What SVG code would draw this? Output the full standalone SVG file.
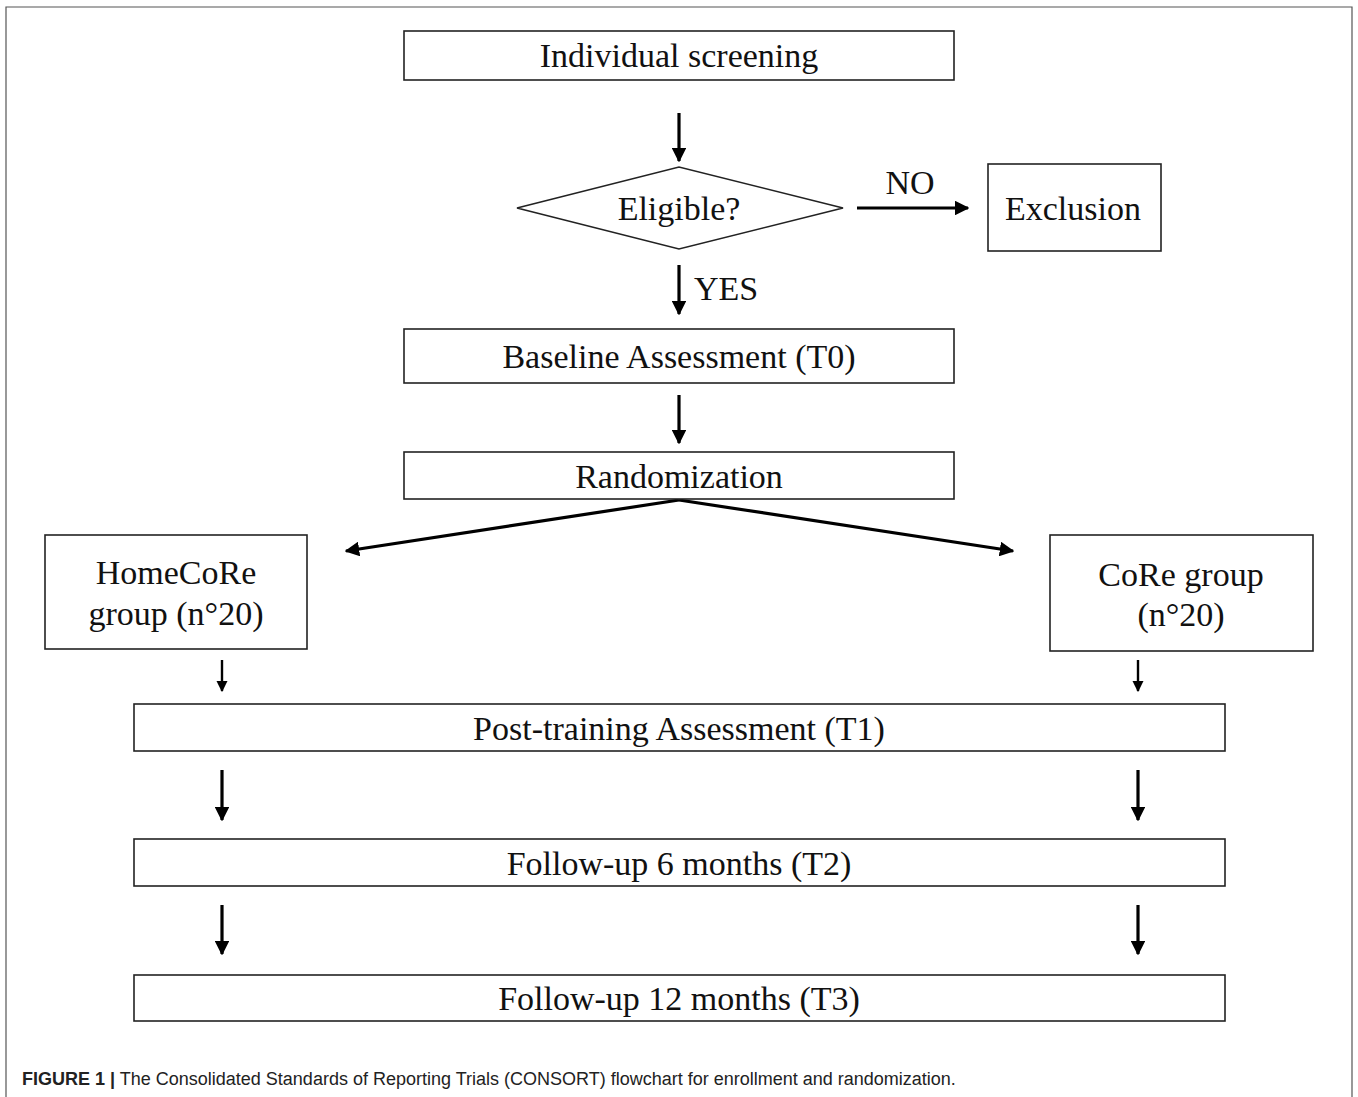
<svg xmlns="http://www.w3.org/2000/svg" width="1358" height="1097" viewBox="0 0 1358 1097">
<defs>
<marker id="ah" viewBox="0 0 10 10" refX="9" refY="5" markerWidth="4.6" markerHeight="4.6" markerUnits="strokeWidth" orient="auto">
<path d="M0,0 L10,5 L0,10 z" fill="#000"/>
</marker>
<style>
.box{fill:#fff;stroke:#222;stroke-width:1.6}
.t{font-family:"Liberation Serif","Times New Roman",serif;font-size:34px;fill:#111;text-anchor:middle;dominant-baseline:central}
.c{stroke:#000;stroke-width:3.2;fill:none;marker-end:url(#ah)}
.cs{stroke:#000;stroke-width:2.4;fill:none;marker-end:url(#ah)}
.cap{font-family:"Liberation Sans",Arial,sans-serif;font-size:18px;fill:#222}
</style>
</defs>
<rect width="1358" height="1097" fill="#fff"/>
<path d="M6,1097 V7 H1352 V1097" fill="none" stroke="#555" stroke-width="1.2"/>

<g id="connectors">
<line class="c" x1="679" y1="113" x2="679" y2="161"/>
<line class="c" x1="857" y1="208" x2="968" y2="208"/>
<line class="c" x1="679" y1="265" x2="679" y2="314"/>
<line class="c" x1="679" y1="395" x2="679" y2="443"/>
<line class="c" x1="679" y1="500" x2="346" y2="551"/>
<line class="c" x1="679" y1="500" x2="1013" y2="551"/>
<line class="cs" x1="222" y1="660" x2="222" y2="691"/>
<line class="cs" x1="1138" y1="660" x2="1138" y2="691"/>
<line class="c" x1="222" y1="770" x2="222" y2="820"/>
<line class="c" x1="1138" y1="770" x2="1138" y2="820"/>
<line class="c" x1="222" y1="905" x2="222" y2="954"/>
<line class="c" x1="1138" y1="905" x2="1138" y2="954"/>
<text class="t" x="910" y="182">NO</text>
<text class="t" x="726" y="288">YES</text>
</g>

<g id="screening">
<rect class="box" x="404" y="31" width="550" height="49"/>
<text class="t" x="679" y="55">Individual screening</text>
</g>
<g id="eligible">
<polygon class="box" points="517,208 679,167 843,208 679,249"/>
<text class="t" x="679" y="208">Eligible?</text>
</g>
<g id="exclusion">
<rect class="box" x="988" y="164" width="173" height="87"/>
<text class="t" x="1073" y="208">Exclusion</text>
</g>
<g id="baseline">
<rect class="box" x="404" y="329" width="550" height="54"/>
<text class="t" x="679" y="356">Baseline Assessment (T0)</text>
</g>
<g id="randomization">
<rect class="box" x="404" y="452" width="550" height="47"/>
<text class="t" x="679" y="476">Randomization</text>
</g>
<g id="homecore">
<rect class="box" x="45" y="535" width="262" height="114"/>
<text class="t" x="176" y="572">HomeCoRe</text>
<text class="t" x="176" y="613">group (n°20)</text>
</g>
<g id="core">
<rect class="box" x="1050" y="535" width="263" height="116"/>
<text class="t" x="1181" y="574">CoRe group</text>
<text class="t" x="1181" y="614">(n°20)</text>
</g>
<g id="t1">
<rect class="box" x="134" y="704" width="1091" height="47"/>
<text class="t" x="679" y="728">Post-training Assessment (T1)</text>
</g>
<g id="t2">
<rect class="box" x="134" y="839" width="1091" height="47"/>
<text class="t" x="679" y="863">Follow-up 6 months (T2)</text>
</g>
<g id="t3">
<rect class="box" x="134" y="975" width="1091" height="46"/>
<text class="t" x="679" y="998">Follow-up 12 months (T3)</text>
</g>

<text class="cap" x="22" y="1085"><tspan font-weight="bold">FIGURE 1</tspan> <tspan font-weight="bold">|</tspan> The Consolidated Standards of Reporting Trials (CONSORT) flowchart for enrollment and randomization.</text>
</svg>
